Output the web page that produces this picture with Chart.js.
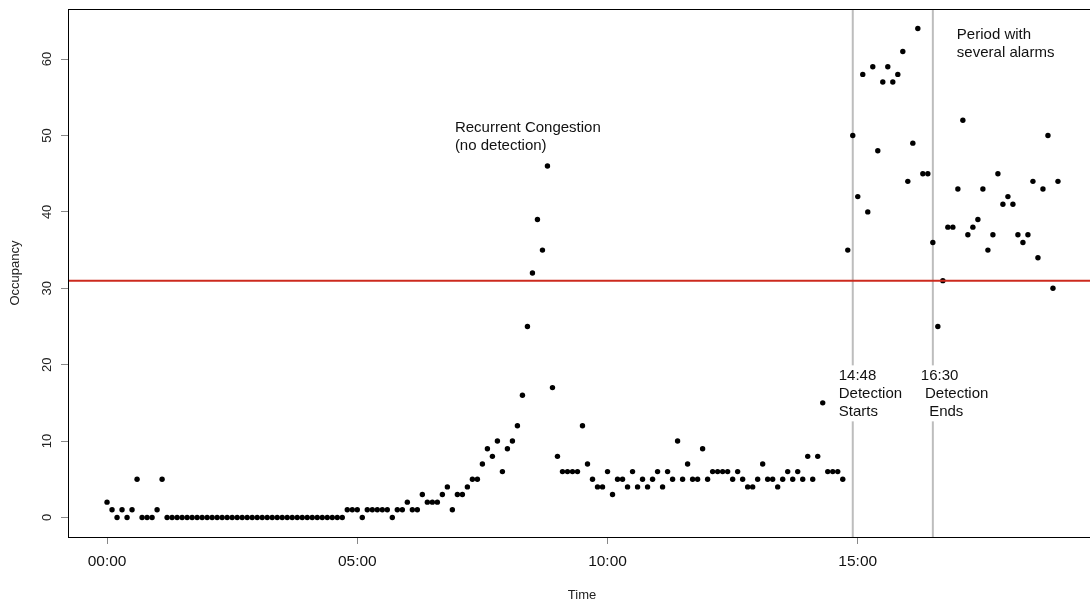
<!DOCTYPE html>
<html><head><meta charset="utf-8">
<style>html,body{margin:0;padding:0;background:#fff;overflow:hidden}canvas{display:block}</style>
<script src="https://cdn.jsdelivr.net/npm/chart.js@4/dist/chart.umd.min.js"></script>
</head><body>
<canvas id="c" width="1100" height="604"></canvas>
<script>
// Occupancy readings, one every 6 minutes starting at 00:00
const occupancy = [
  2,1,0,1,0,1,5,0,0,0,
  1,5,0,0,0,0,0,0,0,0,
  0,0,0,0,0,0,0,0,0,0,
  0,0,0,0,0,0,0,0,0,0,
  0,0,0,0,0,0,0,0,1,1,
  1,0,1,1,1,1,1,0,1,1,
  2,1,1,3,2,2,2,3,4,1,
  3,3,4,5,5,7,9,8,10,6,
  9,10,12,16,25,32,39,35,46,17,
  8,6,6,6,6,12,7,5,4,4,
  6,3,5,5,4,6,4,5,4,5,
  6,4,6,5,10,5,7,5,5,9,
  5,6,6,6,6,5,6,5,4,4,
  5,7,5,5,4,5,6,5,6,5,
  8,5,8,15,6,6,6,5,35,50,
  42,58,40,59,48,57,59,57,58,61,
  44,49,64,45,45,36,25,31,38,38,
  43,52,37,38,39,43,35,37,45,41,
  42,41,37,36,37,44,34,43,50,30,
  44
];
const sampleMinutes = 6;
const threshold = 31;
const detectionStartHour = 14.9;
const detectionEndHour = 16.5;
const xTickHours = [0, 5, 10, 15];
const xTickLabels = ['00:00', '05:00', '10:00', '15:00'];
const yTickValues = [0, 10, 20, 30, 40, 50, 60];
const yTickLabels = ['0', '10', '20', '30', '40', '50', '60'];
const noteTexts = [
  ['Recurrent Congestion', '(no detection)'],
  ['Period with', 'several alarms'],
  ['14:48', 'Detection', 'Starts'],
  ['16:30', ' Detection', '  Ends']
];
const noteAnchors = [ // [hour, value] of first line
  [6.95, 51.0],
  [16.98, 63.2],
  [14.62, 18.6],
  [16.26, 18.6]
];
const noteBg = [false, false, true, true];

const X_MIN = -0.78, X_MAX = 19.76, Y_MIN = -2.56, Y_MAX = 66.56;

const points = occupancy.map((v, i) => ({ x: i * sampleMinutes / 60, y: v }));

const FONT = 'Liberation Sans, Arial, sans-serif';

const decor = {
  id: 'decor',
  afterDatasetsDraw(chart) {
    const { ctx, chartArea: a, scales: { x, y } } = chart;
    ctx.save();
    // notes
    ctx.font = '15px ' + FONT;
    ctx.textBaseline = 'middle';
    ctx.textAlign = 'left';
    noteTexts.forEach((lines, k) => {
      const px = x.getPixelForValue(noteAnchors[k][0]);
      const py = y.getPixelForValue(noteAnchors[k][1]);
      if (noteBg[k]) {
        let w = 0;
        lines.forEach(t => { w = Math.max(w, ctx.measureText(t).width); });
        ctx.fillStyle = '#fff';
        ctx.fillRect(px - 1, py - 10, w + 3, lines.length * 18 + 2);
      }
      ctx.fillStyle = '#111';
      lines.forEach((t, j) => ctx.fillText(t, px, py + j * 18));
    });
    ctx.restore();
  },
  afterDraw(chart) {
    const { ctx, chartArea: a, scales: { y } } = chart;
    ctx.save();
    ctx.strokeStyle = '#000';
    ctx.lineWidth = 1;
    ctx.strokeRect(Math.round(a.left) + 0.5, Math.round(a.top) + 0.5,
                   Math.round(a.right - a.left), Math.round(a.bottom - a.top));
    // rotated y tick labels
    ctx.font = '13px ' + FONT;
    ctx.fillStyle = '#222';
    ctx.textAlign = 'center';
    ctx.textBaseline = 'middle';
    yTickValues.forEach((v, i) => {
      const py = y.getPixelForValue(v);
      ctx.save();
      ctx.translate(a.left - 21, py);
      ctx.rotate(-Math.PI / 2);
      ctx.fillText(yTickLabels[i], 0, 0);
      ctx.restore();
    });
    ctx.restore();
  }
};

new Chart(document.getElementById('c'), {
  type: 'scatter',
  data: {
    datasets: [
      { data: [{x: X_MIN, y: threshold}, {x: X_MAX, y: threshold}], showLine: true,
        borderColor: '#cc2a1e', borderWidth: 2, pointRadius: 0, order: 0 },
      { data: [{x: detectionStartHour, y: Y_MIN}, {x: detectionStartHour, y: Y_MAX}], showLine: true,
        borderColor: '#bdbdbd', borderWidth: 2, pointRadius: 0, order: 2 },
      { data: [{x: detectionEndHour, y: Y_MIN}, {x: detectionEndHour, y: Y_MAX}], showLine: true,
        borderColor: '#bdbdbd', borderWidth: 2, pointRadius: 0, order: 2 },
      { data: points, backgroundColor: '#000', borderWidth: 0, pointRadius: 2.7, order: 1 }
    ]
  },
  options: {
    responsive: false,
    animation: false,
    devicePixelRatio: 1,
    layout: { padding: { top: 9, right: 4, left: 0, bottom: 0 } },
    plugins: { legend: { display: false }, tooltip: { enabled: false } },
    scales: {
      x: {
        type: 'linear', min: X_MIN, max: X_MAX,
        afterBuildTicks: s => { s.ticks = xTickHours.map(v => ({ value: v })); },
        afterFit: s => { s.height = 67; },
        ticks: {
          callback: (v, i) => xTickLabels[i],
          font: { family: FONT, size: 15.5 }, color: '#111', padding: 8,
          maxRotation: 0, minRotation: 0, autoSkip: false
        },
        grid: { drawOnChartArea: false, drawTicks: true, tickLength: 7, color: '#888', tickColor: '#888' },
        border: { display: true, color: '#000', width: 1 },
        title: { display: true, text: 'Time', font: { family: FONT, size: 13 }, color: '#222',
                 padding: { top: 0, bottom: 1 } }
      },
      y: {
        type: 'linear', min: Y_MIN, max: Y_MAX,
        afterBuildTicks: s => { s.ticks = yTickValues.map(v => ({ value: v })); },
        afterFit: s => { s.width = 68; },
        ticks: { display: false },
        grid: { drawOnChartArea: false, drawTicks: true, tickLength: 7, color: '#888', tickColor: '#888' },
        border: { display: true, color: '#000', width: 1 },
        title: { display: true, text: 'Occupancy', font: { family: FONT, size: 13 }, color: '#222',
                 padding: { top: 8, bottom: 0 } }
      }
    }
  },
  plugins: [decor]
});
</script>
</body></html>
